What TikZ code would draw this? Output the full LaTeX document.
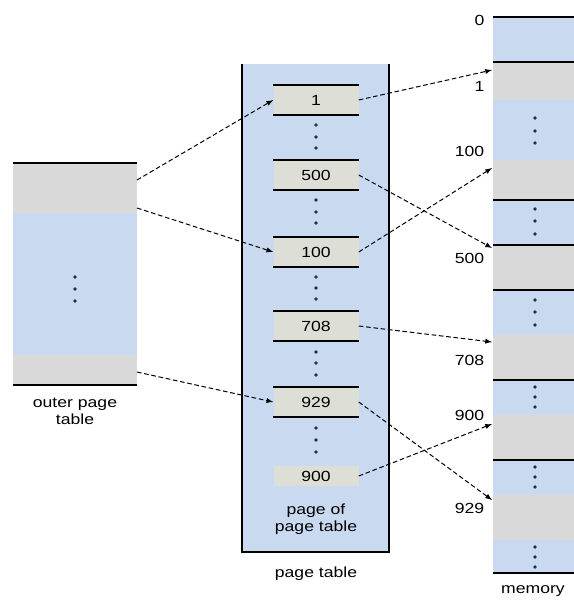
\documentclass[tikz,border=0pt]{standalone}
\usepackage{fontspec}
\newfontfamily\figfont[FakeStretch=1.2]{Liberation Sans}
\usetikzlibrary{arrows}

\definecolor{frameblue}{RGB}{201,217,240}
\definecolor{framegray}{RGB}{217,217,217}
\definecolor{entrygray}{RGB}{221,222,214}
\definecolor{dotnavy}{RGB}{35,45,75}

\tikzset{
  entry/.style={fill=entrygray, minimum width=63.75pt, minimum height=22.5pt, inner sep=0pt},
  ptr/.style={line width=0.75pt, dash pattern=on 3.5pt off 2pt, -latex},
  rule/.style={line width=1.5pt}
}

\begin{document}
\begin{tikzpicture}[x=0.75pt,y=0.75pt,yscale=-1,xscale=1, font=\figfont\fontsize{11}{12.5}\selectfont]
\useasboundingbox (0,0) rectangle (574,601);

%Outer page table
\fill[framegray] (13,163) rectangle (137,385);
\fill[frameblue] (13,213) rectangle (137,355);
\draw[rule] (13,163) -- (137,163) (13,385) -- (137,385);
\foreach \y in {277,289,301} \fill[dotnavy] (75,\y) circle (1.9);
\coordinate (o1) at (137,180);
\coordinate (o2) at (137,208);
\coordinate (o3) at (137,372);
% Text Node
\node[align=center] (olabel) at (75,411) {outer page\\table};

%Page table
\fill[frameblue] (242,64) rectangle (389,552);
\draw[rule] (242,64) -- (242,552) -- (389,552) -- (389,64);
\node[entry] (e1) at (316,100) {1};
\node[entry] (e500) at (316,175) {500};
\node[entry] (e100) at (316,252) {100};
\node[entry] (e708) at (316,326) {708};
\node[entry] (e929) at (316,402) {929};
\node[entry, minimum height=15pt] (e900) at (316,476) {900};
\foreach \e in {e1,e500,e100,e708,e929}
  \draw[rule] (\e.north west) -- (\e.north east) (\e.south west) -- (\e.south east);
\foreach \y in {125,137,148, 200,212,223, 277,288,299, 352,363,375, 428,440,452}
  \fill[dotnavy] (316,\y) circle (1.9);
% Text Node
\node[align=center] (plabel) at (316,519) {page of\\page table};
\node (ptlabel) at (316,574) {page table};

%Memory
\foreach \a/\b/\c in {17/62/frameblue, 62/100/framegray, 100/160/frameblue, 160/200/framegray,
    200/245/frameblue, 245/290/framegray, 290/335/frameblue, 335/380/framegray,
    380/415/frameblue, 415/460/framegray, 460/495/frameblue, 495/540/framegray, 540/573/frameblue}
  \fill[\c] (493,\a) rectangle (574,\b);
\foreach \y in {17,62,200,245,290,380,460,573}
  \draw[rule] (493,\y) -- (574,\y);
\foreach \y in {118,131,143, 209,221,234, 300,312,325, 387,397,407, 467,477,487, 547,557,567}
  \fill[dotnavy] (535,\y) circle (1.9);
\coordinate (m1) at (492,70);
\coordinate (m100) at (492,168);
\coordinate (m500) at (492,248);
\coordinate (m708) at (492,342);
\coordinate (m900) at (492,424);
\coordinate (m929) at (492,500);
% Text Node
\node[anchor=east] (a0) at (489,20) {0};
\node[anchor=east] (a1) at (489,86) {1};
\node[anchor=east] (a100) at (489,151) {100};
\node[anchor=east] (a500) at (489,258) {500};
\node[anchor=east] (a708) at (489,360) {708};
\node[anchor=east] (a900) at (489,415) {900};
\node[anchor=east] (a929) at (489,508) {929};
\node (mlabel) at (533,591) {memory};

%Pointers
\draw[ptr] (o1) -- (e1.west);
\draw[ptr] (o2) -- (e100.west);
\draw[ptr] (o3) -- (e929.west);
\draw[ptr] (e1.east) -- (m1);
\draw[ptr] (e500.east) -- (m500);
\draw[ptr] (e100.east) -- (m100);
\draw[ptr] (e708.east) -- (m708);
\draw[ptr] (e929.east) -- (m929);
\draw[ptr] (e900.east) -- (m900);
\end{tikzpicture}
\end{document}
